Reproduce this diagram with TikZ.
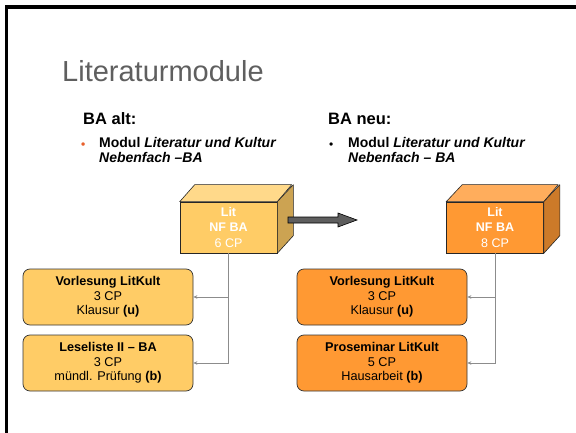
\documentclass[tikz,border=0pt]{standalone}
\usepackage{fontspec}
\setmainfont{Liberation Sans}
\usetikzlibrary{arrows.meta}
\definecolor{yF}{HTML}{FFCC66}
\definecolor{yT}{HTML}{FFD98A}
\definecolor{yS}{HTML}{CCA352}
\definecolor{oF}{HTML}{FF9933}
\definecolor{oT}{HTML}{FFAD5C}
\definecolor{oS}{HTML}{CC7A29}
\definecolor{titlegray}{HTML}{5F5F5F}
\definecolor{bulletorange}{HTML}{E8602C}
\definecolor{conngray}{HTML}{8C8C8C}
\definecolor{arrowgray}{HTML}{5E5E5E}
\tikzset{
  cubefront/.style={draw=black!85, line width=0.6pt, minimum width=97pt, minimum height=51pt,
    inner sep=0pt, align=center, text=white, font=\fontsize{12.5}{15.5}\selectfont},
  facedraw/.style={draw=black!85, line width=0.6pt, line join=round},
  modbox/.style={draw=black!80, line width=0.7pt, rounded corners=7pt, minimum width=170pt,
    minimum height=56pt, inner sep=0pt, align=center, font=\fontsize{12.7}{14.7}\selectfont},
  conn/.style={draw=conngray, line width=0.8pt, -{Stealth[length=4pt,width=3.5pt]}},
  bulletline/.style={anchor=base west, inner sep=0pt, font=\bfseries\fontsize{14}{15}\selectfont},
  heading/.style={anchor=base west, inner sep=0pt, font=\bfseries\fontsize{16.5}{18}\selectfont},
}
\begin{document}
\begin{tikzpicture}[x=1pt,y=-1pt]
\useasboundingbox[fill=white] (0,0) rectangle (576,433);
% frame
\draw[line width=3.5pt] (6.5,433) -- (6.5,7) -- (576,7);
% title
\node[anchor=base west, inner sep=0pt, text=titlegray, font=\fontsize{29}{31}\selectfont] (title) at (62,82) {Literaturmodule};
\node[heading] (altH) at (83,125) {BA alt:};
\node[heading] (neuH) at (328,125) {BA neu:};
% bullets
\node[bulletline, text=bulletorange, font=\bfseries\fontsize{12}{13}\selectfont] (bulL) at (81,148.5) {•};
\node[bulletline] (txtL1) at (99,147.5) {Modul \textit{Literatur und Kultur}};
\node[bulletline] (txtL2) at (99,162.5) {\textit{Nebenfach –BA}};
\node[bulletline, font=\fontsize{12}{13}\selectfont] (bulR) at (329,148.5) {•};
\node[bulletline] (txtR1) at (348,147.5) {Modul \textit{Literatur und Kultur}};
\node[bulletline] (txtR2) at (348,162.5) {\textit{Nebenfach – BA}};
% left cube
\node[cubefront, fill=yF] (cubeL) at (228.5,227.5) {\textbf{Lit}\\\textbf{NF BA}\\6 CP};
\filldraw[facedraw, fill=yT] (cubeL.north west) -- ++(15,-17) -- ++(97,0) -- (cubeL.north east) -- cycle;
\filldraw[facedraw, fill=yS] (cubeL.north east) -- ++(16,-17) -- ++(0,51) -- (cubeL.south east) -- cycle;
% right cube
\node[cubefront, fill=oF] (cubeR) at (495,227.5) {\textbf{Lit}\\\textbf{NF BA}\\8 CP};
\filldraw[facedraw, fill=oT] (cubeR.north west) -- ++(16,-17) -- ++(96,0) -- (cubeR.north east) -- cycle;
\filldraw[facedraw, fill=oS] (cubeR.north east) -- ++(16,-17) -- ++(0,51) -- (cubeR.south east) -- cycle;
% big arrow
\filldraw[draw=black, line width=0.6pt, fill=arrowgray, line join=miter]
  (288,217) -- (338,217) -- (338,213) -- (357,220) -- (338,227) -- (338,223) -- (288,223) -- cycle;
% left boxes
\node[modbox, fill=yF] (l1) at (108,297) {\textbf{Vorlesung LitKult}\\3 CP\\Klausur \textbf{(u)}};
\node[modbox, fill=yF] (l2) at (108,363) {\textbf{Leseliste II – BA}\\3 CP\\mündl. Prüfung \textbf{(b)}};
% right boxes
\node[modbox, fill=oF] (r1) at (382,297) {\textbf{Vorlesung LitKult}\\3 CP\\Klausur \textbf{(u)}};
\node[modbox, fill=oF] (r2) at (382,363) {\textbf{Proseminar LitKult}\\5 CP\\Hausarbeit \textbf{(b)}};
% connectors
\draw[conn] (cubeL.south) |- (l1.east);
\draw[conn] (cubeL.south) |- (l2.east);
\draw[conn] (cubeR.south) |- (r1.east);
\draw[conn] (cubeR.south) |- (r2.east);
\end{tikzpicture}
\end{document}
